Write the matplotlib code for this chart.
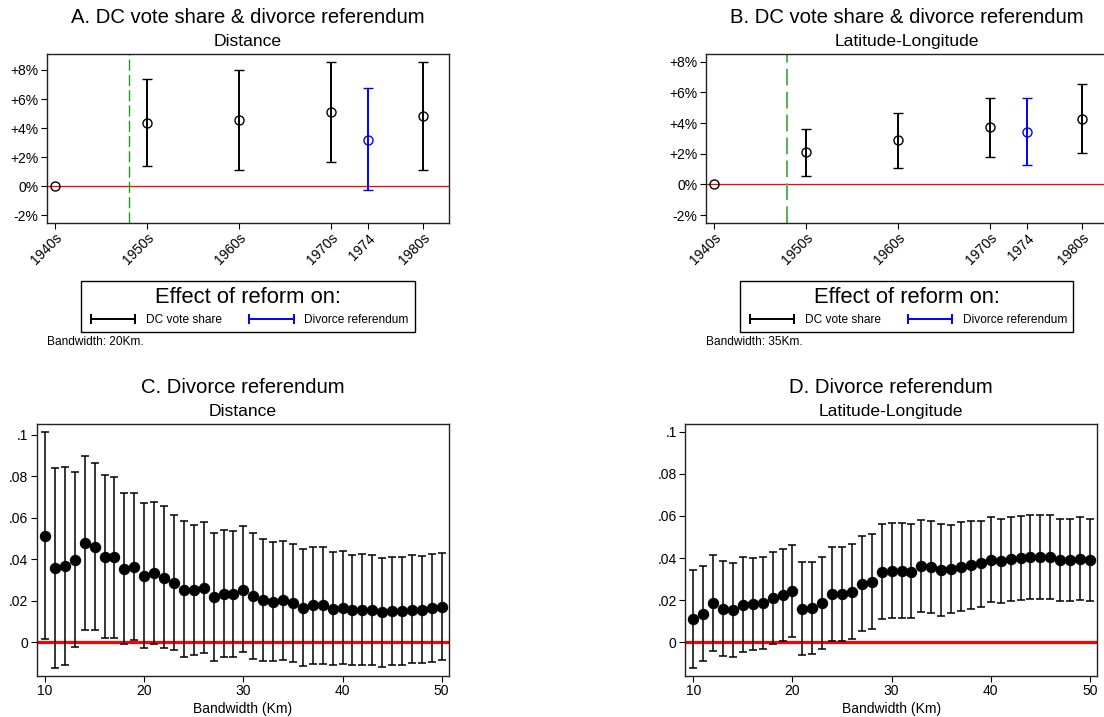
import numpy as np
import matplotlib.pyplot as plt
from matplotlib.lines import Line2D

plt.rcParams['font.family'] = ['Liberation Sans', 'DejaVu Sans']

# ---- data: panels A and B (effect in percentage points) ----
dc_years = np.array([1950, 1960, 1970, 1980])
year_ticks = [1940, 1950, 1960, 1970, 1974, 1980]
year_labels = ['1940s', '1950s', '1960s', '1970s', '1974', '1980s']
base_year = 1940
reform_year = 1948
div_year = 1974

a_dc_est = np.array([4.38, 4.54, 5.11, 4.84])
a_dc_lo = np.array([1.40, 1.08, 1.67, 1.08])
a_dc_hi = np.array([7.38, 7.98, 8.57, 8.57])
a_div_est, a_div_lo, a_div_hi = 3.21, -0.30, 6.74

b_dc_est = np.array([2.09, 2.87, 3.72, 4.28])
b_dc_lo = np.array([0.54, 1.09, 1.80, 2.02])
b_dc_hi = np.array([3.63, 4.67, 5.63, 6.52])
b_div_est, b_div_lo, b_div_hi = 3.43, 1.24, 5.61

pct_ticks = [-2, 0, 2, 4, 6, 8]
pct_labels = ['-2%', '0%', '+2%', '+4%', '+6%', '+8%']

# ---- data: panels C and D (bandwidth 10..50 km) ----
bandwidth = np.arange(10, 51)
c_est = np.array([0.0514, 0.0359, 0.0367, 0.0395, 0.0477, 0.0460, 0.0410, 0.0410, 0.0354, 0.0365,
                  0.0320, 0.0333, 0.0312, 0.0288, 0.0252, 0.0252, 0.0264, 0.0217, 0.0232, 0.0232,
                  0.0252, 0.0223, 0.0204, 0.0196, 0.0203, 0.0191, 0.0167, 0.0178, 0.0178, 0.0161,
                  0.0166, 0.0154, 0.0158, 0.0154, 0.0145, 0.0151, 0.0151, 0.0158, 0.0158, 0.0164,
                  0.0170])
c_hi = np.array([0.1016, 0.0841, 0.0847, 0.0823, 0.0899, 0.0863, 0.0805, 0.0799, 0.0722, 0.0722,
                 0.0670, 0.0677, 0.0656, 0.0616, 0.0584, 0.0568, 0.0580, 0.0527, 0.0540, 0.0539,
                 0.0561, 0.0529, 0.0498, 0.0482, 0.0489, 0.0476, 0.0452, 0.0460, 0.0460, 0.0434,
                 0.0441, 0.0421, 0.0424, 0.0420, 0.0407, 0.0412, 0.0412, 0.0420, 0.0418, 0.0428,
                 0.0432])
c_lo = np.array([0.0016, -0.0122, -0.0109, -0.0024, 0.0061, 0.0058, 0.0019, 0.0023, -0.0010, 0.0013,
                 -0.0027, -0.0010, -0.0029, -0.0039, -0.0072, -0.0063, -0.0050, -0.0088, -0.0072, -0.0071,
                 -0.0048, -0.0079, -0.0092, -0.0092, -0.0085, -0.0095, -0.0113, -0.0105, -0.0103, -0.0111,
                 -0.0105, -0.0111, -0.0109, -0.0111, -0.0117, -0.0111, -0.0111, -0.0101, -0.0101, -0.0093,
                 -0.0085])

d_est = np.array([0.0112, 0.0136, 0.0185, 0.0160, 0.0153, 0.0179, 0.0182, 0.0187, 0.0210, 0.0226,
                  0.0245, 0.0160, 0.0161, 0.0187, 0.0229, 0.0231, 0.0239, 0.0278, 0.0288, 0.0335,
                  0.0339, 0.0337, 0.0335, 0.0364, 0.0356, 0.0342, 0.0347, 0.0359, 0.0367, 0.0375,
                  0.0392, 0.0386, 0.0394, 0.0399, 0.0403, 0.0407, 0.0403, 0.0391, 0.0391, 0.0396,
                  0.0391])
d_hi = np.array([0.0345, 0.0364, 0.0415, 0.0384, 0.0378, 0.0403, 0.0402, 0.0407, 0.0430, 0.0445,
                 0.0464, 0.0380, 0.0381, 0.0403, 0.0454, 0.0454, 0.0465, 0.0506, 0.0514, 0.0562,
                 0.0566, 0.0565, 0.0562, 0.0581, 0.0574, 0.0562, 0.0557, 0.0571, 0.0576, 0.0578,
                 0.0593, 0.0587, 0.0597, 0.0600, 0.0604, 0.0604, 0.0603, 0.0587, 0.0587, 0.0595,
                 0.0587])
d_lo = np.array([-0.0122, -0.0089, -0.0043, -0.0065, -0.0071, -0.0044, -0.0038, -0.0033, -0.0009, 0.0005,
                 0.0024, -0.0060, -0.0057, -0.0030, 0.0005, 0.0008, 0.0017, 0.0054, 0.0063, 0.0111,
                 0.0114, 0.0114, 0.0114, 0.0146, 0.0138, 0.0127, 0.0138, 0.0150, 0.0157, 0.0169,
                 0.0193, 0.0188, 0.0196, 0.0201, 0.0206, 0.0207, 0.0207, 0.0196, 0.0196, 0.0201,
                 0.0195])

bw_ticks = [10, 20, 30, 40, 50]
share_ticks = [0, 0.02, 0.04, 0.06, 0.08, 0.1]
share_labels = ['0', '.02', '.04', '.06', '.08', '.1']

W, H = 1104, 717
fig = plt.figure(figsize=(W / 100, H / 100), dpi=100)


def add_ax(left, top, right, bottom):
    # axes placed in pixel coordinates (y measured from top)
    ax = fig.add_axes([left / W, 1 - bottom / H, (right - left) / W, (bottom - top) / H])
    for s in ax.spines.values():
        s.set_linewidth(1.0)
        s.set_color('#222222')
    ax.tick_params(direction='out', length=4, width=0.8, labelsize=10, pad=2)
    return ax


def titles(ax, top_px, title, subtitle):
    pos = ax.get_position()
    xc = (pos.x0 + pos.x1) / 2
    fig.text(xc, 1 - (top_px - 31) / H, title, fontsize=14.6, ha='center', va='baseline')
    fig.text(xc, 1 - (top_px - 8) / H, subtitle, fontsize=12.6, ha='center', va='baseline')


def event_panel(ax, est, lo, hi, dv_est, dv_lo, dv_hi, ylim, bw_note, left_px, green, green_lw):
    ax.axhline(0, color='red', lw=0.9, zorder=1)
    ax.axvline(reform_year, color=green, lw=green_lw, ls=(0, (8, 3)), zorder=1)
    ax.errorbar(dc_years, est, yerr=[est - lo, hi - est], fmt='o', color='k',
                mfc='none', mec='k', ms=6.5, mew=1.0, capsize=3.6,
                elinewidth=1.4, capthick=1.4, zorder=3)
    ax.plot([base_year], [0], 'o', mfc='none', mec='k', ms=6.5, mew=1.0, zorder=3)
    ax.errorbar([div_year], [dv_est], yerr=[[dv_est - dv_lo], [dv_hi - dv_est]], fmt='o',
                color='blue', mfc='none', mec='blue', ms=6.5, mew=1.0, capsize=3.6,
                elinewidth=1.4, capthick=1.4, zorder=3)
    ax.set_xlim(1939.15, 1982.8)
    ax.set_ylim(*ylim)
    ax.set_xticks(year_ticks)
    ax.set_xticklabels(year_labels, rotation=45, ha='right', va='top', rotation_mode='anchor')
    ax.set_yticks(pct_ticks)
    ax.set_yticklabels(pct_labels)
    handles = [Line2D([], [], color='k', lw=1.4, marker='|', ms=7, mew=1.4),
               Line2D([], [], color='blue', lw=1.4, marker='|', ms=7, mew=1.4)]
    leg = ax.legend(handles, ['DC vote share', 'Divorce referendum'], title='Effect of reform on:',
                    loc='upper center', bbox_to_anchor=(0.5, -0.3456), ncol=2, numpoints=2,
                    fontsize=8.6, title_fontsize=15.8, fancybox=False, edgecolor='black',
                    framealpha=1, handlelength=4.3, handletextpad=0.6, columnspacing=2.0,
                    borderpad=0.5, borderaxespad=0)
    leg.get_frame().set_linewidth(1.0)
    fig.text(left_px / W, 1 - 345 / H, bw_note, fontsize=8.6, va='baseline')


def band_panel(ax, est, lo, hi, xlim, ylim):
    ax.axhline(0, color='red', lw=2.3, zorder=1)
    ax.errorbar(bandwidth, est, yerr=[est - lo, hi - est], fmt='o', color='k',
                ms=7.2, capsize=2.9, elinewidth=1.1, capthick=1.1, zorder=3)
    ax.set_xlim(*xlim)
    ax.set_ylim(*ylim)
    ax.set_xticks(bw_ticks)
    ax.set_yticks(share_ticks)
    ax.set_yticklabels(share_labels)
    ax.set_xlabel('Bandwidth (Km)', fontsize=10, labelpad=3)


# A
ax_a = add_ax(47, 54, 449, 222.7)
event_panel(ax_a, a_dc_est, a_dc_lo, a_dc_hi, a_div_est, a_div_lo, a_div_hi,
            (-2.52, 9.10), 'Bandwidth: 20Km.', 47, '#1e9e1e', 1.0)
titles(ax_a, 54, 'A. DC vote share & divorce referendum', 'Distance')

# B (right edge runs past the figure, as in the source)
ax_b = add_ax(705.7, 54, 1107.7, 222.7)
event_panel(ax_b, b_dc_est, b_dc_lo, b_dc_hi, b_div_est, b_div_lo, b_div_hi,
            (-2.50, 8.50), 'Bandwidth: 35Km.', 705.7, '#5cb05c', 1.5)
titles(ax_b, 54, 'B. DC vote share & divorce referendum', 'Latitude-Longitude')

# C
ax_c = add_ax(36.7, 424, 449.3, 676)
band_panel(ax_c, c_est, c_lo, c_hi, (9.16, 50.77), (-0.01626, 0.1053))
titles(ax_c, 424, 'C. Divorce referendum', 'Distance')

# D
ax_d = add_ax(685, 424, 1097.3, 676)
band_panel(ax_d, d_est, d_lo, d_hi, (9.16, 50.74), (-0.0160, 0.10366))
titles(ax_d, 424, 'D. Divorce referendum', 'Latitude-Longitude')

fig.savefig('out.png', dpi=100)
